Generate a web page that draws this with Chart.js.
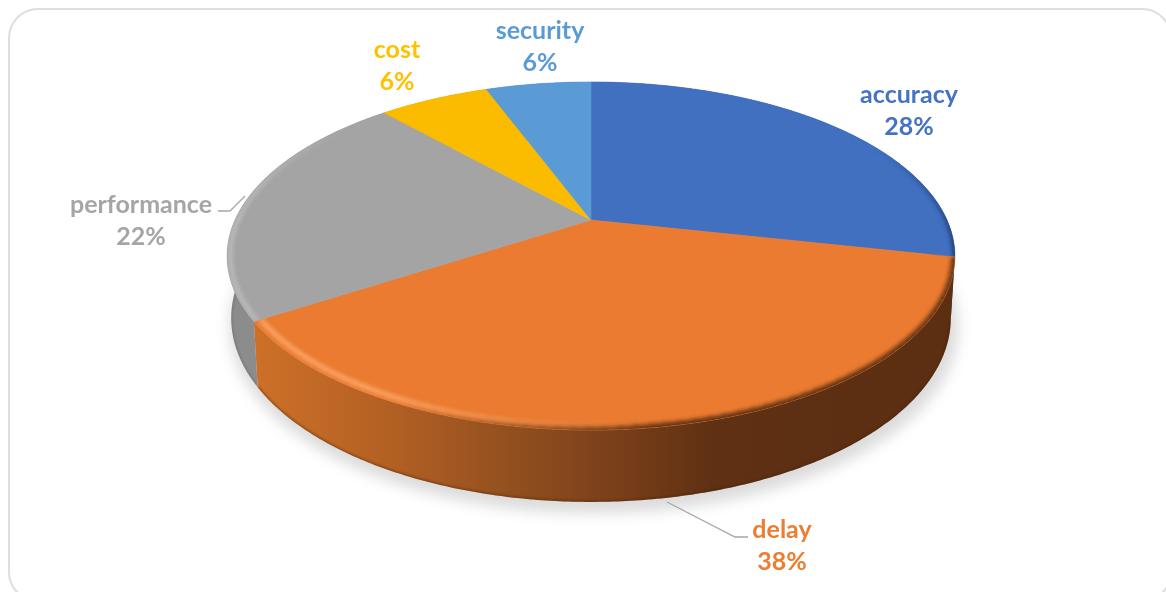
<!DOCTYPE html>
<html>
<head>
<meta charset="utf-8">
<title>pie</title>
<script src="https://cdn.jsdelivr.net/npm/chart.js@4/dist/chart.umd.min.js"></script>
<style>
    html, body { margin: 0; padding: 0; background: #fff; overflow: hidden; }
    #wrap { position: relative; width: 1166px; height: 592px; overflow: hidden; }
    #frame { position: absolute; left: 8px; top: 8px; width: 1160px; height: 590px; border: 2px solid #dedede; border-radius: 30px; }
    #pieChart { position: absolute; left: 0; top: 0; }
</style>
</head>
<body>
<div id="wrap">
    <div id="frame"></div>
    <canvas id="pieChart" width="1166" height="592"></canvas>
</div>
<script>
const categories = ['accuracy', 'delay', 'performance', 'cost', 'security'];
const shares = [28.4, 37.5, 22.4, 6, 5.7];
const faceColors = ['#4170C1', '#EA7B30', '#A4A4A4', '#FBBC00', '#5B9BD5'];
const labelColors = ['#4472C4', '#ED7D31', '#A5A5A5', '#FFC000', '#5B9BD5'];

// where the data labels sit (center x, y of first line)
const labelPos = [[909, 95], [782, 530], [141, 205], [397, 50], [540, 31]];
const leaderLines = [
    [[218, 211], [230, 211], [245, 196]],
    [[667, 502], [735, 537], [748, 537]]
];

// perspective of the tilted disc
const tilt = 0.2069;
const topFace = { cx: 591, cy: 220, a: 356, b: 166.6 };
const bottomFace = { cx: 591, cy: 280, a: 352, b: 176 };

// t = clockwise angle from 12 o'clock, r = 0..1
function project(face, t, r) {
    const u = Math.sin(t) * r;
    const v = -Math.cos(t) * r;
    const w = 1 - tilt * v;
    return [face.cx + face.a * u / w, face.cy + face.b * v / w];
}

function rimPath(ctx, face, from, to, r, first) {
    const steps = Math.max(2, Math.ceil(Math.abs(to - from) / 0.01));
    for (let i = 0; i <= steps; i++) {
        const p = project(face, from + (to - from) * i / steps, r);
        if (i === 0 && first) ctx.moveTo(p[0], p[1]);
        else ctx.lineTo(p[0], p[1]);
    }
}

function wallPath(ctx, from, to) {
    ctx.beginPath();
    rimPath(ctx, topFace, from, to, 1, true);
    rimPath(ctx, bottomFace, to, from, 1, false);
    ctx.closePath();
}

function facePath(ctx, from, to) {
    ctx.beginPath();
    ctx.moveTo(topFace.cx, topFace.cy);
    rimPath(ctx, topFace, from, to, 1, false);
    ctx.closePath();
}

function wallFill(ctx, i) {
    if (i === 1) {
        const g = ctx.createLinearGradient(258, 0, 950, 0);
        g.addColorStop(0, '#CC7028');
        g.addColorStop(0.2, '#B25F23');
        g.addColorStop(0.35, '#95511F');
        g.addColorStop(0.5, '#7C411A');
        g.addColorStop(0.66, '#5F3013');
        g.addColorStop(1, '#5C2F12');
        return g;
    }
    return ['#2A4678', '#5C2F12', '#8C8C8C', '#9A7400', '#3A6A96'][i];
}

function clamp01(x) {
    return Math.max(0, Math.min(1, x));
}

const deg = Math.PI / 180;
// color of the lit edge per slice
const edgeLight = ['255,255,255', '255,172,112', '192,192,192', '255,255,255', '255,255,255'];

const tiltedPie = {
    id: 'tiltedPie',
    beforeDatasetDraw(chart, args) {
        const ctx = chart.ctx;
        const arcs = chart.getDatasetMeta(args.index).data;
        const slices = arcs.map(function(arc) {
            const p = arc.getProps(['startAngle', 'endAngle'], true);
            return { from: p.startAngle + Math.PI / 2, to: p.endAngle + Math.PI / 2 };
        });

        // soft shadow on the ground
        ctx.save();
        ctx.filter = 'blur(7px)';
        ctx.fillStyle = 'rgba(0,0,0,0.14)';
        ctx.translate(3, 8);
        ctx.beginPath();
        rimPath(ctx, bottomFace, 0, Math.PI * 2, 1.012, true);
        ctx.closePath();
        ctx.fill();
        ctx.restore();

        // side walls
        slices.forEach(function(s, i) {
            ctx.save();
            wallPath(ctx, s.from, s.to);
            ctx.fillStyle = wallFill(ctx, i);
            ctx.fill();
            ctx.clip();
            ctx.filter = 'blur(1px)';
            ctx.strokeStyle = i === 1 ? 'rgba(70,30,5,0.4)' : 'rgba(60,60,60,0.2)';
            ctx.lineWidth = 3;
            ctx.beginPath();
            rimPath(ctx, bottomFace, s.from, s.to, 1, true);
            ctx.stroke();
            ctx.restore();
        });

        // top faces with the bevel along the rim
        slices.forEach(function(s, i) {
            ctx.save();
            facePath(ctx, s.from, s.to);
            ctx.fillStyle = faceColors[i];
            ctx.fill();
            ctx.strokeStyle = faceColors[i];
            ctx.lineWidth = 0.6;
            ctx.stroke();
            ctx.clip();
            ctx.filter = 'blur(2px)';
            const step = 2 * deg;
            for (let t = s.from; t < s.to; t += step) {
                const end = Math.min(t + step + 0.005, s.to);
                const a = t / deg;
                const dark = a < 170 ? clamp01((a - 60) / 40) : clamp01((205 - a) / 35);
                if (dark > 0) {
                    ctx.strokeStyle = i === 0 ? 'rgba(25,45,90,' + dark + ')' : 'rgba(92,47,18,' + dark + ')';
                    ctx.lineWidth = i === 0 ? 4 : 7;
                    ctx.beginPath();
                    rimPath(ctx, topFace, t, end, 1, true);
                    ctx.stroke();
                }
                const light = a < 250 ? clamp01((a - 170) / 40) : clamp01((310 - a) / 40);
                if (light > 0) {
                    ctx.strokeStyle = 'rgba(' + edgeLight[i] + ',' + light + ')';
                    ctx.lineWidth = 4;
                    ctx.beginPath();
                    rimPath(ctx, topFace, t, end, i === 2 ? 0.992 : 0.982, true);
                    ctx.stroke();
                }
            }
            ctx.restore();
        });
        return false;
    },
    afterDatasetsDraw(chart) {
        const ctx = chart.ctx;
        ctx.save();
        ctx.strokeStyle = '#A6A6A6';
        ctx.lineWidth = 1.3;
        leaderLines.forEach(function(line) {
            ctx.beginPath();
            line.forEach(function(p, i) {
                if (i === 0) ctx.moveTo(p[0], p[1]);
                else ctx.lineTo(p[0], p[1]);
            });
            ctx.stroke();
        });
        ctx.font = 'bold 25px Lato';
        ctx.textAlign = 'center';
        ctx.textBaseline = 'middle';
        categories.forEach(function(name, i) {
            ctx.fillStyle = labelColors[i];
            ctx.fillText(name, labelPos[i][0], labelPos[i][1]);
            ctx.fillText(Math.round(shares[i]) + '%', labelPos[i][0], labelPos[i][1] + 32);
        });
        ctx.restore();
    }
};

const myPieChart = new Chart(document.getElementById('pieChart'), {
    type: 'pie',
    data: {
        labels: categories,
        datasets: [{ data: shares, backgroundColor: faceColors, borderWidth: 0 }]
    },
    options: {
        responsive: false,
        animation: false,
        plugins: {
            legend: { display: false },
            tooltip: { enabled: false }
        }
    },
    plugins: [tiltedPie]
});
</script>
</body>
</html>
